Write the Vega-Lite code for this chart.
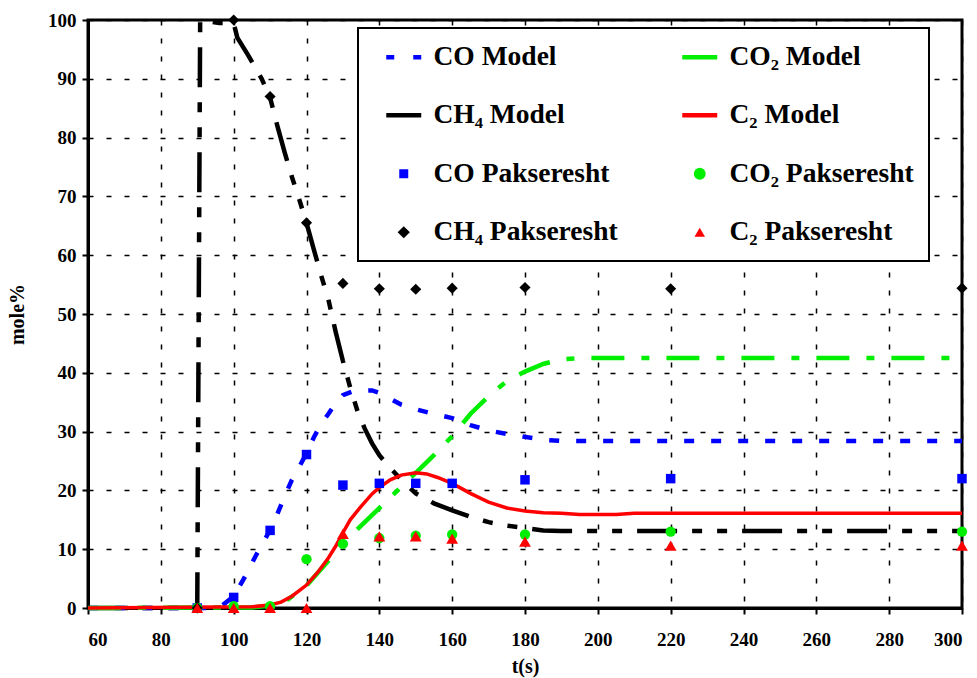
{
  "$schema": "https://vega.github.io/schema/vega-lite/v6.json",
  "width": 874,
  "height": 588,
  "autosize": {"type": "none"},
  "padding": {"left": 88, "top": 20, "right": 15, "bottom": 70},
  "background": "white",
  "config": {
    "view": {"stroke": "black", "strokeWidth": 3},
    "font": "Liberation Serif",
    "legend": {"strokeWidth": 2},
    "axis": {
      "domainColor": "black",
      "domainWidth": 3,
      "tickColor": "black",
      "tickWidth": 2,
      "tickSize": 6,
      "gridColor": "black",
      "gridDash": [5, 13],
      "gridWidth": 1.5,
      "gridOpacity": 1,
      "labelFont": "Liberation Serif",
      "labelFontWeight": "bold",
      "labelFontSize": 19,
      "labelColor": "black",
      "titleFont": "Liberation Serif",
      "titleFontWeight": "bold",
      "titleFontSize": 20,
      "titleColor": "black"
    }
  },
  "datasets": {
    "models": [
      {"series": "CH₄ Model", "t": 60, "v": 0},
      {"series": "CH₄ Model", "t": 90, "v": 0},
      {"series": "CH₄ Model", "t": 90.8, "v": 100},
      {"series": "CH₄ Model", "t": 96, "v": 99.5},
      {"series": "CH₄ Model", "t": 100, "v": 99.5},
      {"series": "CH₄ Model", "t": 101, "v": 97},
      {"series": "CH₄ Model", "t": 104, "v": 94},
      {"series": "CH₄ Model", "t": 107.7, "v": 90},
      {"series": "CH₄ Model", "t": 110, "v": 86.8},
      {"series": "CH₄ Model", "t": 112, "v": 82},
      {"series": "CH₄ Model", "t": 114, "v": 77.5},
      {"series": "CH₄ Model", "t": 116, "v": 73.3},
      {"series": "CH₄ Model", "t": 118, "v": 69.5},
      {"series": "CH₄ Model", "t": 120, "v": 65.5},
      {"series": "CH₄ Model", "t": 122, "v": 61},
      {"series": "CH₄ Model", "t": 124, "v": 56.6},
      {"series": "CH₄ Model", "t": 126, "v": 52.5},
      {"series": "CH₄ Model", "t": 128, "v": 47},
      {"series": "CH₄ Model", "t": 130, "v": 42},
      {"series": "CH₄ Model", "t": 132, "v": 37.5},
      {"series": "CH₄ Model", "t": 134, "v": 33.5},
      {"series": "CH₄ Model", "t": 136, "v": 30.5},
      {"series": "CH₄ Model", "t": 138, "v": 28},
      {"series": "CH₄ Model", "t": 140, "v": 26},
      {"series": "CH₄ Model", "t": 142, "v": 24.5},
      {"series": "CH₄ Model", "t": 145, "v": 22.5},
      {"series": "CH₄ Model", "t": 147, "v": 21.2},
      {"series": "CH₄ Model", "t": 150, "v": 19.5},
      {"series": "CH₄ Model", "t": 155, "v": 17.8},
      {"series": "CH₄ Model", "t": 160, "v": 16.6},
      {"series": "CH₄ Model", "t": 165, "v": 15.5},
      {"series": "CH₄ Model", "t": 170, "v": 14.6},
      {"series": "CH₄ Model", "t": 175, "v": 14},
      {"series": "CH₄ Model", "t": 180, "v": 13.6},
      {"series": "CH₄ Model", "t": 185, "v": 13.2},
      {"series": "CH₄ Model", "t": 190, "v": 13.1},
      {"series": "CH₄ Model", "t": 300, "v": 13.1},
      {"series": "CO Model", "t": 60, "v": 0},
      {"series": "CO Model", "t": 95, "v": 0},
      {"series": "CO Model", "t": 97, "v": 0.5},
      {"series": "CO Model", "t": 100, "v": 2},
      {"series": "CO Model", "t": 103, "v": 5.2},
      {"series": "CO Model", "t": 106, "v": 8.8},
      {"series": "CO Model", "t": 108, "v": 11},
      {"series": "CO Model", "t": 110, "v": 13.3},
      {"series": "CO Model", "t": 112, "v": 16},
      {"series": "CO Model", "t": 114, "v": 19},
      {"series": "CO Model", "t": 116, "v": 21.8},
      {"series": "CO Model", "t": 118, "v": 24},
      {"series": "CO Model", "t": 120, "v": 26.3},
      {"series": "CO Model", "t": 122, "v": 29},
      {"series": "CO Model", "t": 124, "v": 31.3},
      {"series": "CO Model", "t": 126, "v": 33},
      {"series": "CO Model", "t": 128, "v": 34.8},
      {"series": "CO Model", "t": 130, "v": 36.2},
      {"series": "CO Model", "t": 133, "v": 36.9},
      {"series": "CO Model", "t": 138, "v": 37},
      {"series": "CO Model", "t": 140, "v": 36.6},
      {"series": "CO Model", "t": 143, "v": 35.6},
      {"series": "CO Model", "t": 146, "v": 34.6},
      {"series": "CO Model", "t": 150, "v": 33.8},
      {"series": "CO Model", "t": 155, "v": 33},
      {"series": "CO Model", "t": 160, "v": 32.3},
      {"series": "CO Model", "t": 165, "v": 31.1},
      {"series": "CO Model", "t": 170, "v": 30.2},
      {"series": "CO Model", "t": 175, "v": 29.6},
      {"series": "CO Model", "t": 180, "v": 29.1},
      {"series": "CO Model", "t": 185, "v": 28.6},
      {"series": "CO Model", "t": 190, "v": 28.4},
      {"series": "CO Model", "t": 300, "v": 28.4},
      {"series": "CO₂ Model", "t": 60, "v": 0},
      {"series": "CO₂ Model", "t": 105, "v": 0.1},
      {"series": "CO₂ Model", "t": 110, "v": 0.4},
      {"series": "CO₂ Model", "t": 115, "v": 1.5},
      {"series": "CO₂ Model", "t": 120, "v": 3.8},
      {"series": "CO₂ Model", "t": 125, "v": 7.3},
      {"series": "CO₂ Model", "t": 130, "v": 11},
      {"series": "CO₂ Model", "t": 135, "v": 14},
      {"series": "CO₂ Model", "t": 140, "v": 17},
      {"series": "CO₂ Model", "t": 145, "v": 20},
      {"series": "CO₂ Model", "t": 150, "v": 23},
      {"series": "CO₂ Model", "t": 155, "v": 26},
      {"series": "CO₂ Model", "t": 160, "v": 29.2},
      {"series": "CO₂ Model", "t": 165, "v": 33},
      {"series": "CO₂ Model", "t": 170, "v": 36},
      {"series": "CO₂ Model", "t": 175, "v": 38.6},
      {"series": "CO₂ Model", "t": 180, "v": 40.2},
      {"series": "CO₂ Model", "t": 185, "v": 41.5},
      {"series": "CO₂ Model", "t": 190, "v": 42.3},
      {"series": "CO₂ Model", "t": 195, "v": 42.5},
      {"series": "CO₂ Model", "t": 300, "v": 42.5},
      {"series": "C₂ Model", "t": 60, "v": 0},
      {"series": "C₂ Model", "t": 105, "v": 0.2},
      {"series": "C₂ Model", "t": 110, "v": 0.5},
      {"series": "C₂ Model", "t": 113, "v": 1},
      {"series": "C₂ Model", "t": 116, "v": 2},
      {"series": "C₂ Model", "t": 120, "v": 3.9},
      {"series": "C₂ Model", "t": 123, "v": 6},
      {"series": "C₂ Model", "t": 126, "v": 8.5},
      {"series": "C₂ Model", "t": 128, "v": 10.5},
      {"series": "C₂ Model", "t": 130, "v": 12.8},
      {"series": "C₂ Model", "t": 132, "v": 15},
      {"series": "C₂ Model", "t": 135, "v": 17.3},
      {"series": "C₂ Model", "t": 138, "v": 19.4},
      {"series": "C₂ Model", "t": 140, "v": 20.5},
      {"series": "C₂ Model", "t": 143, "v": 21.8},
      {"series": "C₂ Model", "t": 146, "v": 22.6},
      {"series": "C₂ Model", "t": 150, "v": 23},
      {"series": "C₂ Model", "t": 153, "v": 22.8},
      {"series": "C₂ Model", "t": 156, "v": 22.2},
      {"series": "C₂ Model", "t": 160, "v": 21.2},
      {"series": "C₂ Model", "t": 165, "v": 19.5},
      {"series": "C₂ Model", "t": 170, "v": 18},
      {"series": "C₂ Model", "t": 175, "v": 17},
      {"series": "C₂ Model", "t": 180, "v": 16.5},
      {"series": "C₂ Model", "t": 185, "v": 16.2},
      {"series": "C₂ Model", "t": 190, "v": 16.1},
      {"series": "C₂ Model", "t": 195, "v": 15.9},
      {"series": "C₂ Model", "t": 205, "v": 15.9},
      {"series": "C₂ Model", "t": 210, "v": 16.1},
      {"series": "C₂ Model", "t": 300, "v": 16.1}
    ],
    "points": [
      {"series": "CO Pakseresht", "t": 90, "v": 0},
      {"series": "CO Pakseresht", "t": 100, "v": 1.8},
      {"series": "CO Pakseresht", "t": 110, "v": 13.2},
      {"series": "CO Pakseresht", "t": 120, "v": 26.1},
      {"series": "CO Pakseresht", "t": 130, "v": 20.9},
      {"series": "CO Pakseresht", "t": 140, "v": 21.2},
      {"series": "CO Pakseresht", "t": 150, "v": 21.2},
      {"series": "CO Pakseresht", "t": 160, "v": 21.2},
      {"series": "CO Pakseresht", "t": 180, "v": 21.8},
      {"series": "CO Pakseresht", "t": 220, "v": 22},
      {"series": "CO Pakseresht", "t": 300, "v": 22},
      {"series": "CO₂ Pakseresht", "t": 90, "v": 0},
      {"series": "CO₂ Pakseresht", "t": 100, "v": 0.3},
      {"series": "CO₂ Pakseresht", "t": 110, "v": 0.3},
      {"series": "CO₂ Pakseresht", "t": 120, "v": 8.3},
      {"series": "CO₂ Pakseresht", "t": 130, "v": 10.9},
      {"series": "CO₂ Pakseresht", "t": 140, "v": 11.9},
      {"series": "CO₂ Pakseresht", "t": 150, "v": 12.3},
      {"series": "CO₂ Pakseresht", "t": 160, "v": 12.5},
      {"series": "CO₂ Pakseresht", "t": 180, "v": 12.5},
      {"series": "CO₂ Pakseresht", "t": 220, "v": 13},
      {"series": "CO₂ Pakseresht", "t": 300, "v": 13},
      {"series": "CH₄ Pakseresht", "t": 90, "v": 0},
      {"series": "CH₄ Pakseresht", "t": 100, "v": 100},
      {"series": "CH₄ Pakseresht", "t": 110, "v": 87},
      {"series": "CH₄ Pakseresht", "t": 120, "v": 65.5},
      {"series": "CH₄ Pakseresht", "t": 130, "v": 55.2},
      {"series": "CH₄ Pakseresht", "t": 140, "v": 54.3},
      {"series": "CH₄ Pakseresht", "t": 150, "v": 54.2},
      {"series": "CH₄ Pakseresht", "t": 160, "v": 54.4},
      {"series": "CH₄ Pakseresht", "t": 180, "v": 54.5},
      {"series": "CH₄ Pakseresht", "t": 220, "v": 54.3},
      {"series": "CH₄ Pakseresht", "t": 300, "v": 54.4},
      {"series": "C₂ Pakseresht", "t": 90, "v": 0},
      {"series": "C₂ Pakseresht", "t": 100, "v": 0},
      {"series": "C₂ Pakseresht", "t": 110, "v": 0},
      {"series": "C₂ Pakseresht", "t": 120, "v": 0},
      {"series": "C₂ Pakseresht", "t": 130, "v": 12.6},
      {"series": "C₂ Pakseresht", "t": 140, "v": 12.2},
      {"series": "C₂ Pakseresht", "t": 150, "v": 12.2},
      {"series": "C₂ Pakseresht", "t": 160, "v": 11.8},
      {"series": "C₂ Pakseresht", "t": 180, "v": 11.3},
      {"series": "C₂ Pakseresht", "t": 220, "v": 10.6},
      {"series": "C₂ Pakseresht", "t": 300, "v": 10.6}
    ]
  },
  "encoding": {
    "x": {
      "field": "t", "type": "quantitative",
      "scale": {"domain": [60, 300], "nice": false, "zero": false},
      "axis": {"values": [60, 80, 100, 120, 140, 160, 180, 200, 220, 240, 260, 280, 300], "title": "t(s)", "labelPadding": 16, "titlePadding": 7}
    },
    "y": {
      "field": "v", "type": "quantitative",
      "scale": {"domain": [0, 100], "nice": false},
      "axis": {"values": [0, 10, 20, 30, 40, 50, 60, 70, 80, 90, 100], "title": "mole%", "labelPadding": 6, "titlePadding": 20, "titleFontSize": 20}
    },
    "color": {
      "field": "series", "type": "nominal",
      "scale": {
        "domain": ["CO Model", "CH₄ Model", "CO Pakseresht", "CH₄ Pakseresht", "CO₂ Model", "C₂ Model", "CO₂ Pakseresht", "C₂ Pakseresht"],
        "range": ["#0000ff", "#000000", "#0000ff", "#000000", "#00ee00", "#ff0000", "#00ee00", "#ff0000"]
      },
      "legend": {
        "title": null,
        "orient": "none",
        "legendX": 270,
        "legendY": 8,
        "columns": 2,
        "strokeColor": "black",
        "fillColor": "white",
        "padding": 15,
        "rowPadding": 29.5,
        "columnPadding": 51,
        "labelFont": "Liberation Serif",
        "labelFontWeight": "bold",
        "labelFontSize": 27.5,
        "labelColor": "black",
        "labelLimit": 400,
        "labelOffset": 16,
        "symbolOffset": 17,
        "symbolSize": 1225,
        "symbolType": "stroke",
        "encode": {
          "symbols": {
            "update": {
              "shape": {"signal": "indexof(['CO Model','CO₂ Model','CH₄ Model','C₂ Model'], datum.value) >= 0 ? 'stroke' : datum.value === 'CO Pakseresht' ? 'square' : datum.value === 'CO₂ Pakseresht' ? 'circle' : datum.value === 'CH₄ Pakseresht' ? 'diamond' : 'triangle-up'"},
              "size": {"signal": "indexof(['CO Model','CO₂ Model','CH₄ Model','C₂ Model'], datum.value) >= 0 ? 1225 : datum.value === 'CO Pakseresht' ? 81 : datum.value === 'CO₂ Pakseresht' ? 140 : datum.value === 'CH₄ Pakseresht' ? 150 : 110"},
              "strokeDash": {"signal": "datum.value === 'CO Model' ? [8, 19] : [1, 0]"},
              "strokeWidth": {"signal": "indexof(['CO Model','CO₂ Model','CH₄ Model','C₂ Model'], datum.value) >= 0 ? 4.5 : 0"},
              "fill": {"signal": "scale('color', datum.value)"},
              "stroke": {"signal": "scale('color', datum.value)"},
              "opacity": {"value": 1}
            }
          }
        }
      }
    }
  },
  "layer": [
    {
      "data": {"name": "models"},
      "transform": [{"filter": "datum.series === 'CH₄ Model'"}],
      "mark": {"type": "line", "strokeWidth": 4.5, "strokeDash": [40, 15, 10, 15, 10, 15]}
    },
    {
      "data": {"name": "models"},
      "transform": [{"filter": "datum.series === 'CO Model'"}],
      "mark": {"type": "line", "strokeWidth": 4.5, "strokeDash": [10, 17]}
    },
    {
      "data": {"name": "models"},
      "transform": [{"filter": "datum.series === 'CO₂ Model'"}],
      "mark": {"type": "line", "strokeWidth": 4.5, "strokeDash": [33, 17, 8, 17]}
    },
    {
      "data": {"name": "models"},
      "transform": [{"filter": "datum.series === 'C₂ Model'"}],
      "mark": {"type": "line", "strokeWidth": 3.5}
    },
    {
      "data": {"name": "points"},
      "mark": {"type": "point", "filled": true, "opacity": 1},
      "encoding": {
        "shape": {
          "field": "series", "type": "nominal",
          "scale": {
            "domain": ["CO Pakseresht", "CO₂ Pakseresht", "CH₄ Pakseresht", "C₂ Pakseresht"],
            "range": ["square", "circle", "diamond", "triangle-up"]
          },
          "legend": null
        },
        "size": {
          "field": "series", "type": "ordinal",
          "scale": {
            "domain": ["CO Pakseresht", "CO₂ Pakseresht", "CH₄ Pakseresht", "C₂ Pakseresht"],
            "range": [90, 140, 160, 115]
          },
          "legend": null
        }
      }
    }
  ]
}
